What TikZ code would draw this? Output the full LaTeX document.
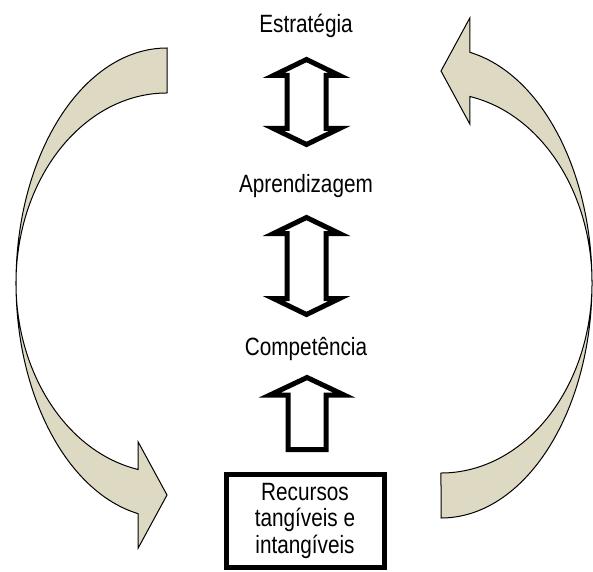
\documentclass[tikz,border=0pt]{standalone}
\usepackage{fontspec}
\setmainfont{Liberation Sans}[FakeStretch=0.83]
\definecolor{tanfill}{HTML}{DDD9C3}
\tikzstyle{txt} = [font=\fontsize{25}{26.5}\selectfont, align=center, inner sep=0pt]
\tikzstyle{blockLine} = [draw=black, fill=white, line width=5pt, line join=miter]
\tikzstyle{rec} = [rectangle, draw=black, line width=5pt, minimum width=158pt, minimum height=93pt, txt]
\tikzstyle{curveArrow} = [fill=tanfill, draw=black, line width=1pt, line join=miter]
\tikzset{
  dblarrow/.pic={
    \path[blockLine] (0,#1) -- (33,{#1-16}) -- (19.5,{#1-16}) -- (19.5,{16-#1}) -- (33,{16-#1})
      -- (0,-#1) -- (-33,{16-#1}) -- (-19.5,{16-#1}) -- (-19.5,{#1-16}) -- (-33,{#1-16}) -- cycle;
  },
  uparrow/.pic={
    \path[blockLine] (0,36) -- (37,18.5) -- (19,18.5) -- (19,-36) -- (-19,-36) -- (-19,18.5)
      -- (-37,18.5) -- cycle;
  }
}
\newcommand\ribbonArrow{%
  \filldraw[curveArrow] (0,235) arc[start angle=90, end angle=259, x radius=151, y radius=235]
    -- (-28.8,-265) -- (0,-212) -- (-28.8,-159) -- (-28.8,-186.5)
    arc[start angle=259, end angle=90, x radius=151, y radius=190] -- cycle;}

\begin{document}
\begin{tikzpicture}[x=1pt, y=1pt]
		\useasboundingbox (0,0) rectangle (593,571);
		% curved arrows
		\begin{scope}[shift={(167,288)}]
			\ribbonArrow
		\end{scope}
		\begin{scope}[shift={(441,288)}, rotate=180]
			\ribbonArrow
		\end{scope}
		% texts
		\node (strat) [txt, anchor=base] at (306,538) {Estratégia};
		\node (learn) [txt, anchor=base] at (306,378) {Aprendizagem};
		\node (comp) [txt, anchor=base] at (306,216) {Competência};
		\node (res) [rec] at (305,50.5) {Recursos\\tangíveis e\\intangíveis};
		% block arrows
		\pic (a1) at (306.5,469) {dblarrow=42.5};
		\pic (a2) at (306.5,305) {dblarrow=48.5};
		\pic (a3) at (307,157.5) {uparrow};
	\end{tikzpicture}
\end{document}
